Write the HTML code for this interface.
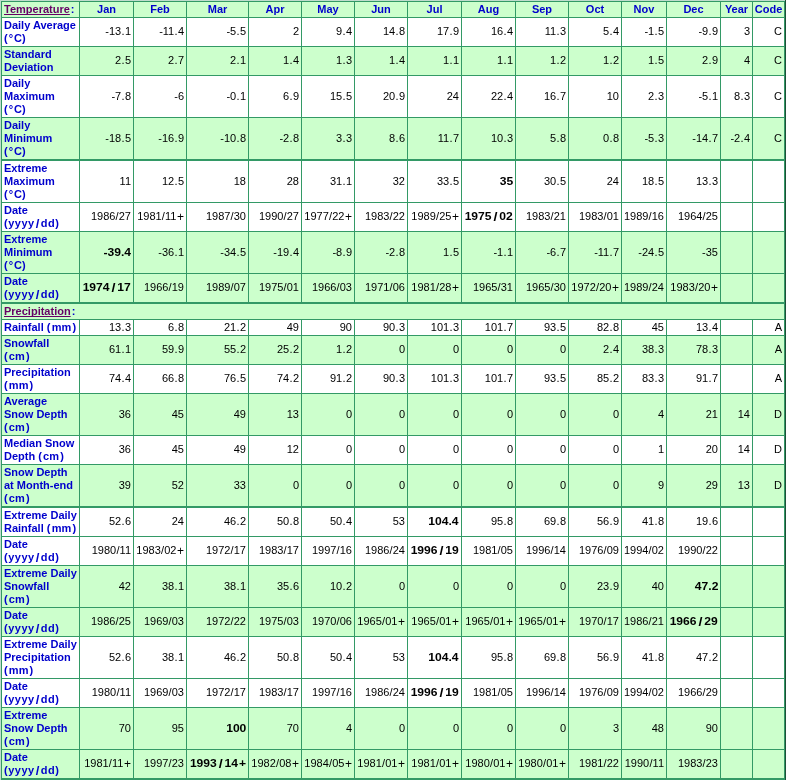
<!DOCTYPE html>
<html><head><meta charset="utf-8"><style>
html,body{margin:0;padding:0;background:#c0dccd;}
body{width:786px;height:780px;overflow:hidden;position:relative;font-family:"Liberation Sans",sans-serif;font-size:11px;}
div{position:absolute;}
.h{background:#339966;height:1px;}
.v{background:#339966;width:1px;}
.l{color:#0000CC;font-weight:bold;line-height:13px;white-space:nowrap;}
.n{color:#000;line-height:13px;white-space:nowrap;text-align:right;}
.b{font-weight:bold;color:#000;display:inline-block;transform:scaleX(1.1);transform-origin:right center;}
.bs{margin:0 1.7px;font-size:13px;line-height:10px;position:relative;top:1px;}
.bd{margin:0;}
.bm{margin-right:0;}
.bp{margin-left:1px;}
.rs{margin:0 0.15px;}
.rp{margin-left:0.6px;font-size:12px;line-height:10px;position:relative;top:1px;}
.rd{margin:0 0.3px;}
.c{color:#0000CC;font-weight:bold;line-height:13px;text-align:center;white-space:nowrap;}
.dg{margin:0 0.8px 0 1.2px;}
.yd{letter-spacing:0.5px;}
.sl{margin:0 1px;font-size:13px;line-height:10px;position:relative;top:1px;}
.p1{margin-right:1.2px;}
.p2{margin-left:1.2px;}
a{color:#660066;text-decoration:underline;text-decoration-skip-ink:none;}
</style></head><body>

<div style="left:1px;top:2px;width:784px;height:15px;background:#CCFFCC"></div>
<div style="left:1px;top:18px;width:784px;height:28px;background:#FFFFFF"></div>
<div style="left:1px;top:47px;width:784px;height:28px;background:#CCFFCC"></div>
<div style="left:1px;top:76px;width:784px;height:41px;background:#FFFFFF"></div>
<div style="left:1px;top:118px;width:784px;height:41px;background:#CCFFCC"></div>
<div style="left:1px;top:161px;width:784px;height:41px;background:#FFFFFF"></div>
<div style="left:1px;top:203px;width:784px;height:28px;background:#FFFFFF"></div>
<div style="left:1px;top:232px;width:784px;height:41px;background:#CCFFCC"></div>
<div style="left:1px;top:274px;width:784px;height:28px;background:#CCFFCC"></div>
<div style="left:1px;top:304px;width:784px;height:15px;background:#CCFFCC"></div>
<div style="left:1px;top:320px;width:784px;height:15px;background:#FFFFFF"></div>
<div style="left:1px;top:336px;width:784px;height:28px;background:#CCFFCC"></div>
<div style="left:1px;top:365px;width:784px;height:28px;background:#FFFFFF"></div>
<div style="left:1px;top:394px;width:784px;height:41px;background:#CCFFCC"></div>
<div style="left:1px;top:436px;width:784px;height:28px;background:#FFFFFF"></div>
<div style="left:1px;top:465px;width:784px;height:41px;background:#CCFFCC"></div>
<div style="left:1px;top:508px;width:784px;height:28px;background:#FFFFFF"></div>
<div style="left:1px;top:537px;width:784px;height:28px;background:#FFFFFF"></div>
<div style="left:1px;top:566px;width:784px;height:41px;background:#CCFFCC"></div>
<div style="left:1px;top:608px;width:784px;height:28px;background:#CCFFCC"></div>
<div style="left:1px;top:637px;width:784px;height:41px;background:#FFFFFF"></div>
<div style="left:1px;top:679px;width:784px;height:28px;background:#FFFFFF"></div>
<div style="left:1px;top:708px;width:784px;height:41px;background:#CCFFCC"></div>
<div style="left:1px;top:750px;width:784px;height:28px;background:#CCFFCC"></div>
<div class="h" style="left:1px;top:1px;width:784px;height:1px"></div>
<div class="h" style="left:1px;top:17px;width:784px;height:1px"></div>
<div class="h" style="left:1px;top:46px;width:784px;height:1px"></div>
<div class="h" style="left:1px;top:75px;width:784px;height:1px"></div>
<div class="h" style="left:1px;top:117px;width:784px;height:1px"></div>
<div class="h" style="left:1px;top:159px;width:784px;height:2px"></div>
<div class="h" style="left:1px;top:202px;width:784px;height:1px"></div>
<div class="h" style="left:1px;top:231px;width:784px;height:1px"></div>
<div class="h" style="left:1px;top:273px;width:784px;height:1px"></div>
<div class="h" style="left:1px;top:302px;width:784px;height:2px"></div>
<div class="h" style="left:1px;top:319px;width:784px;height:1px"></div>
<div class="h" style="left:1px;top:335px;width:784px;height:1px"></div>
<div class="h" style="left:1px;top:364px;width:784px;height:1px"></div>
<div class="h" style="left:1px;top:393px;width:784px;height:1px"></div>
<div class="h" style="left:1px;top:435px;width:784px;height:1px"></div>
<div class="h" style="left:1px;top:464px;width:784px;height:1px"></div>
<div class="h" style="left:1px;top:506px;width:784px;height:2px"></div>
<div class="h" style="left:1px;top:536px;width:784px;height:1px"></div>
<div class="h" style="left:1px;top:565px;width:784px;height:1px"></div>
<div class="h" style="left:1px;top:607px;width:784px;height:1px"></div>
<div class="h" style="left:1px;top:636px;width:784px;height:1px"></div>
<div class="h" style="left:1px;top:678px;width:784px;height:1px"></div>
<div class="h" style="left:1px;top:707px;width:784px;height:1px"></div>
<div class="h" style="left:1px;top:749px;width:784px;height:1px"></div>
<div class="h" style="left:1px;top:778px;width:784px;height:2px"></div>
<div class="v" style="left:1px;top:1px;height:779px"></div>
<div class="v" style="left:79px;top:1px;height:303px"></div>
<div class="v" style="left:79px;top:319px;height:459px"></div>
<div class="v" style="left:133px;top:1px;height:303px"></div>
<div class="v" style="left:133px;top:319px;height:459px"></div>
<div class="v" style="left:186px;top:1px;height:303px"></div>
<div class="v" style="left:186px;top:319px;height:459px"></div>
<div class="v" style="left:248px;top:1px;height:303px"></div>
<div class="v" style="left:248px;top:319px;height:459px"></div>
<div class="v" style="left:301px;top:1px;height:303px"></div>
<div class="v" style="left:301px;top:319px;height:459px"></div>
<div class="v" style="left:354px;top:1px;height:303px"></div>
<div class="v" style="left:354px;top:319px;height:459px"></div>
<div class="v" style="left:407px;top:1px;height:303px"></div>
<div class="v" style="left:407px;top:319px;height:459px"></div>
<div class="v" style="left:461px;top:1px;height:303px"></div>
<div class="v" style="left:461px;top:319px;height:459px"></div>
<div class="v" style="left:515px;top:1px;height:303px"></div>
<div class="v" style="left:515px;top:319px;height:459px"></div>
<div class="v" style="left:568px;top:1px;height:303px"></div>
<div class="v" style="left:568px;top:319px;height:459px"></div>
<div class="v" style="left:621px;top:1px;height:303px"></div>
<div class="v" style="left:621px;top:319px;height:459px"></div>
<div class="v" style="left:666px;top:1px;height:303px"></div>
<div class="v" style="left:666px;top:319px;height:459px"></div>
<div class="v" style="left:720px;top:1px;height:303px"></div>
<div class="v" style="left:720px;top:319px;height:459px"></div>
<div class="v" style="left:752px;top:1px;height:303px"></div>
<div class="v" style="left:752px;top:319px;height:459px"></div>
<div class="v" style="left:784px;top:1px;height:779px"></div>
<div style="left:785px;top:0;width:1px;height:780px;background:#1d5038"></div>
<div style="left:0;top:0;width:786px;height:780px;will-change:transform">
<div class="l" style="left:4px;top:3px"><a>Temperature</a><span style="margin-left:1px">:</span></div>
<div class="c" style="left:80px;width:53px;top:3px">Jan</div>
<div class="c" style="left:134px;width:52px;top:3px">Feb</div>
<div class="c" style="left:187px;width:61px;top:3px">Mar</div>
<div class="c" style="left:249px;width:52px;top:3px">Apr</div>
<div class="c" style="left:302px;width:52px;top:3px">May</div>
<div class="c" style="left:355px;width:52px;top:3px">Jun</div>
<div class="c" style="left:408px;width:53px;top:3px">Jul</div>
<div class="c" style="left:462px;width:53px;top:3px">Aug</div>
<div class="c" style="left:516px;width:52px;top:3px">Sep</div>
<div class="c" style="left:569px;width:52px;top:3px">Oct</div>
<div class="c" style="left:622px;width:44px;top:3px">Nov</div>
<div class="c" style="left:667px;width:53px;top:3px">Dec</div>
<div class="c" style="left:721px;width:31px;top:3px">Year</div>
<div class="c" style="left:753px;width:31px;top:3px">Code</div>
<div class="l" style="left:4px;top:19px">Daily Average<br>(<span class="dg">&deg;</span>C)</div>
<div class="n" style="left:80px;width:51px;top:25px">-13<span class="rd">.</span>1</div>
<div class="n" style="left:134px;width:50px;top:25px">-11<span class="rd">.</span>4</div>
<div class="n" style="left:187px;width:59px;top:25px">-5<span class="rd">.</span>5</div>
<div class="n" style="left:249px;width:50px;top:25px">2</div>
<div class="n" style="left:302px;width:50px;top:25px">9<span class="rd">.</span>4</div>
<div class="n" style="left:355px;width:50px;top:25px">14<span class="rd">.</span>8</div>
<div class="n" style="left:408px;width:51px;top:25px">17<span class="rd">.</span>9</div>
<div class="n" style="left:462px;width:51px;top:25px">16<span class="rd">.</span>4</div>
<div class="n" style="left:516px;width:50px;top:25px">11<span class="rd">.</span>3</div>
<div class="n" style="left:569px;width:50px;top:25px">5<span class="rd">.</span>4</div>
<div class="n" style="left:622px;width:42px;top:25px">-1<span class="rd">.</span>5</div>
<div class="n" style="left:667px;width:51px;top:25px">-9<span class="rd">.</span>9</div>
<div class="n" style="left:721px;width:29px;top:25px">3</div>
<div class="n" style="left:753px;width:29px;top:25px">C</div>
<div class="l" style="left:4px;top:48px">Standard<br>Deviation</div>
<div class="n" style="left:80px;width:51px;top:54px">2<span class="rd">.</span>5</div>
<div class="n" style="left:134px;width:50px;top:54px">2<span class="rd">.</span>7</div>
<div class="n" style="left:187px;width:59px;top:54px">2<span class="rd">.</span>1</div>
<div class="n" style="left:249px;width:50px;top:54px">1<span class="rd">.</span>4</div>
<div class="n" style="left:302px;width:50px;top:54px">1<span class="rd">.</span>3</div>
<div class="n" style="left:355px;width:50px;top:54px">1<span class="rd">.</span>4</div>
<div class="n" style="left:408px;width:51px;top:54px">1<span class="rd">.</span>1</div>
<div class="n" style="left:462px;width:51px;top:54px">1<span class="rd">.</span>1</div>
<div class="n" style="left:516px;width:50px;top:54px">1<span class="rd">.</span>2</div>
<div class="n" style="left:569px;width:50px;top:54px">1<span class="rd">.</span>2</div>
<div class="n" style="left:622px;width:42px;top:54px">1<span class="rd">.</span>5</div>
<div class="n" style="left:667px;width:51px;top:54px">2<span class="rd">.</span>9</div>
<div class="n" style="left:721px;width:29px;top:54px">4</div>
<div class="n" style="left:753px;width:29px;top:54px">C</div>
<div class="l" style="left:4px;top:77px">Daily<br>Maximum<br>(<span class="dg">&deg;</span>C)</div>
<div class="n" style="left:80px;width:51px;top:90px">-7<span class="rd">.</span>8</div>
<div class="n" style="left:134px;width:50px;top:90px">-6</div>
<div class="n" style="left:187px;width:59px;top:90px">-0<span class="rd">.</span>1</div>
<div class="n" style="left:249px;width:50px;top:90px">6<span class="rd">.</span>9</div>
<div class="n" style="left:302px;width:50px;top:90px">15<span class="rd">.</span>5</div>
<div class="n" style="left:355px;width:50px;top:90px">20<span class="rd">.</span>9</div>
<div class="n" style="left:408px;width:51px;top:90px">24</div>
<div class="n" style="left:462px;width:51px;top:90px">22<span class="rd">.</span>4</div>
<div class="n" style="left:516px;width:50px;top:90px">16<span class="rd">.</span>7</div>
<div class="n" style="left:569px;width:50px;top:90px">10</div>
<div class="n" style="left:622px;width:42px;top:90px">2<span class="rd">.</span>3</div>
<div class="n" style="left:667px;width:51px;top:90px">-5<span class="rd">.</span>1</div>
<div class="n" style="left:721px;width:29px;top:90px">8<span class="rd">.</span>3</div>
<div class="n" style="left:753px;width:29px;top:90px">C</div>
<div class="l" style="left:4px;top:119px">Daily<br>Minimum<br>(<span class="dg">&deg;</span>C)</div>
<div class="n" style="left:80px;width:51px;top:132px">-18<span class="rd">.</span>5</div>
<div class="n" style="left:134px;width:50px;top:132px">-16<span class="rd">.</span>9</div>
<div class="n" style="left:187px;width:59px;top:132px">-10<span class="rd">.</span>8</div>
<div class="n" style="left:249px;width:50px;top:132px">-2<span class="rd">.</span>8</div>
<div class="n" style="left:302px;width:50px;top:132px">3<span class="rd">.</span>3</div>
<div class="n" style="left:355px;width:50px;top:132px">8<span class="rd">.</span>6</div>
<div class="n" style="left:408px;width:51px;top:132px">11<span class="rd">.</span>7</div>
<div class="n" style="left:462px;width:51px;top:132px">10<span class="rd">.</span>3</div>
<div class="n" style="left:516px;width:50px;top:132px">5<span class="rd">.</span>8</div>
<div class="n" style="left:569px;width:50px;top:132px">0<span class="rd">.</span>8</div>
<div class="n" style="left:622px;width:42px;top:132px">-5<span class="rd">.</span>3</div>
<div class="n" style="left:667px;width:51px;top:132px">-14<span class="rd">.</span>7</div>
<div class="n" style="left:721px;width:29px;top:132px">-2<span class="rd">.</span>4</div>
<div class="n" style="left:753px;width:29px;top:132px">C</div>
<div class="l" style="left:4px;top:162px">Extreme<br>Maximum<br>(<span class="dg">&deg;</span>C)</div>
<div class="n" style="left:80px;width:51px;top:175px">11</div>
<div class="n" style="left:134px;width:50px;top:175px">12<span class="rd">.</span>5</div>
<div class="n" style="left:187px;width:59px;top:175px">18</div>
<div class="n" style="left:249px;width:50px;top:175px">28</div>
<div class="n" style="left:302px;width:50px;top:175px">31<span class="rd">.</span>1</div>
<div class="n" style="left:355px;width:50px;top:175px">32</div>
<div class="n" style="left:408px;width:51px;top:175px">33<span class="rd">.</span>5</div>
<div class="n" style="left:462px;width:51px;top:175px"><span class="b">35</span></div>
<div class="n" style="left:516px;width:50px;top:175px">30<span class="rd">.</span>5</div>
<div class="n" style="left:569px;width:50px;top:175px">24</div>
<div class="n" style="left:622px;width:42px;top:175px">18<span class="rd">.</span>5</div>
<div class="n" style="left:667px;width:51px;top:175px">13<span class="rd">.</span>3</div>
<div class="l" style="left:4px;top:204px">Date<br><span class="yd">(yyyy<span class="sl">/</span>dd)</span></div>
<div class="n" style="left:80px;width:51px;top:210px">1986<span class="rs">/</span>27</div>
<div class="n" style="left:134px;width:50px;top:210px">1981<span class="rs">/</span>11<span class="rp">+</span></div>
<div class="n" style="left:187px;width:59px;top:210px">1987<span class="rs">/</span>30</div>
<div class="n" style="left:249px;width:50px;top:210px">1990<span class="rs">/</span>27</div>
<div class="n" style="left:302px;width:50px;top:210px">1977<span class="rs">/</span>22<span class="rp">+</span></div>
<div class="n" style="left:355px;width:50px;top:210px">1983<span class="rs">/</span>22</div>
<div class="n" style="left:408px;width:51px;top:210px">1989<span class="rs">/</span>25<span class="rp">+</span></div>
<div class="n" style="left:462px;width:51px;top:210px"><span class="b">1975<span class="bs">/</span>02</span></div>
<div class="n" style="left:516px;width:50px;top:210px">1983<span class="rs">/</span>21</div>
<div class="n" style="left:569px;width:50px;top:210px">1983<span class="rs">/</span>01</div>
<div class="n" style="left:622px;width:42px;top:210px">1989<span class="rs">/</span>16</div>
<div class="n" style="left:667px;width:51px;top:210px">1964<span class="rs">/</span>25</div>
<div class="l" style="left:4px;top:233px">Extreme<br>Minimum<br>(<span class="dg">&deg;</span>C)</div>
<div class="n" style="left:80px;width:51px;top:246px"><span class="b"><span class="bm">-</span>39<span class="bd">.</span>4</span></div>
<div class="n" style="left:134px;width:50px;top:246px">-36<span class="rd">.</span>1</div>
<div class="n" style="left:187px;width:59px;top:246px">-34<span class="rd">.</span>5</div>
<div class="n" style="left:249px;width:50px;top:246px">-19<span class="rd">.</span>4</div>
<div class="n" style="left:302px;width:50px;top:246px">-8<span class="rd">.</span>9</div>
<div class="n" style="left:355px;width:50px;top:246px">-2<span class="rd">.</span>8</div>
<div class="n" style="left:408px;width:51px;top:246px">1<span class="rd">.</span>5</div>
<div class="n" style="left:462px;width:51px;top:246px">-1<span class="rd">.</span>1</div>
<div class="n" style="left:516px;width:50px;top:246px">-6<span class="rd">.</span>7</div>
<div class="n" style="left:569px;width:50px;top:246px">-11<span class="rd">.</span>7</div>
<div class="n" style="left:622px;width:42px;top:246px">-24<span class="rd">.</span>5</div>
<div class="n" style="left:667px;width:51px;top:246px">-35</div>
<div class="l" style="left:4px;top:275px">Date<br><span class="yd">(yyyy<span class="sl">/</span>dd)</span></div>
<div class="n" style="left:80px;width:51px;top:281px"><span class="b">1974<span class="bs">/</span>17</span></div>
<div class="n" style="left:134px;width:50px;top:281px">1966<span class="rs">/</span>19</div>
<div class="n" style="left:187px;width:59px;top:281px">1989<span class="rs">/</span>07</div>
<div class="n" style="left:249px;width:50px;top:281px">1975<span class="rs">/</span>01</div>
<div class="n" style="left:302px;width:50px;top:281px">1966<span class="rs">/</span>03</div>
<div class="n" style="left:355px;width:50px;top:281px">1971<span class="rs">/</span>06</div>
<div class="n" style="left:408px;width:51px;top:281px">1981<span class="rs">/</span>28<span class="rp">+</span></div>
<div class="n" style="left:462px;width:51px;top:281px">1965<span class="rs">/</span>31</div>
<div class="n" style="left:516px;width:50px;top:281px">1965<span class="rs">/</span>30</div>
<div class="n" style="left:569px;width:50px;top:281px">1972<span class="rs">/</span>20<span class="rp">+</span></div>
<div class="n" style="left:622px;width:42px;top:281px">1989<span class="rs">/</span>24</div>
<div class="n" style="left:667px;width:51px;top:281px">1983<span class="rs">/</span>20<span class="rp">+</span></div>
<div class="l" style="left:4px;top:305px"><a>Precipitation</a><span style="margin-left:1px">:</span></div>
<div class="l" style="left:4px;top:321px">Rainfall <span class="p1">(</span>mm<span class="p2">)</span></div>
<div class="n" style="left:80px;width:51px;top:321px">13<span class="rd">.</span>3</div>
<div class="n" style="left:134px;width:50px;top:321px">6<span class="rd">.</span>8</div>
<div class="n" style="left:187px;width:59px;top:321px">21<span class="rd">.</span>2</div>
<div class="n" style="left:249px;width:50px;top:321px">49</div>
<div class="n" style="left:302px;width:50px;top:321px">90</div>
<div class="n" style="left:355px;width:50px;top:321px">90<span class="rd">.</span>3</div>
<div class="n" style="left:408px;width:51px;top:321px">101<span class="rd">.</span>3</div>
<div class="n" style="left:462px;width:51px;top:321px">101<span class="rd">.</span>7</div>
<div class="n" style="left:516px;width:50px;top:321px">93<span class="rd">.</span>5</div>
<div class="n" style="left:569px;width:50px;top:321px">82<span class="rd">.</span>8</div>
<div class="n" style="left:622px;width:42px;top:321px">45</div>
<div class="n" style="left:667px;width:51px;top:321px">13<span class="rd">.</span>4</div>
<div class="n" style="left:753px;width:29px;top:321px">A</div>
<div class="l" style="left:4px;top:337px">Snowfall<br><span class="p1">(</span>cm<span class="p2">)</span></div>
<div class="n" style="left:80px;width:51px;top:343px">61<span class="rd">.</span>1</div>
<div class="n" style="left:134px;width:50px;top:343px">59<span class="rd">.</span>9</div>
<div class="n" style="left:187px;width:59px;top:343px">55<span class="rd">.</span>2</div>
<div class="n" style="left:249px;width:50px;top:343px">25<span class="rd">.</span>2</div>
<div class="n" style="left:302px;width:50px;top:343px">1<span class="rd">.</span>2</div>
<div class="n" style="left:355px;width:50px;top:343px">0</div>
<div class="n" style="left:408px;width:51px;top:343px">0</div>
<div class="n" style="left:462px;width:51px;top:343px">0</div>
<div class="n" style="left:516px;width:50px;top:343px">0</div>
<div class="n" style="left:569px;width:50px;top:343px">2<span class="rd">.</span>4</div>
<div class="n" style="left:622px;width:42px;top:343px">38<span class="rd">.</span>3</div>
<div class="n" style="left:667px;width:51px;top:343px">78<span class="rd">.</span>3</div>
<div class="n" style="left:753px;width:29px;top:343px">A</div>
<div class="l" style="left:4px;top:366px">Precipitation<br><span class="p1">(</span>mm<span class="p2">)</span></div>
<div class="n" style="left:80px;width:51px;top:372px">74<span class="rd">.</span>4</div>
<div class="n" style="left:134px;width:50px;top:372px">66<span class="rd">.</span>8</div>
<div class="n" style="left:187px;width:59px;top:372px">76<span class="rd">.</span>5</div>
<div class="n" style="left:249px;width:50px;top:372px">74<span class="rd">.</span>2</div>
<div class="n" style="left:302px;width:50px;top:372px">91<span class="rd">.</span>2</div>
<div class="n" style="left:355px;width:50px;top:372px">90<span class="rd">.</span>3</div>
<div class="n" style="left:408px;width:51px;top:372px">101<span class="rd">.</span>3</div>
<div class="n" style="left:462px;width:51px;top:372px">101<span class="rd">.</span>7</div>
<div class="n" style="left:516px;width:50px;top:372px">93<span class="rd">.</span>5</div>
<div class="n" style="left:569px;width:50px;top:372px">85<span class="rd">.</span>2</div>
<div class="n" style="left:622px;width:42px;top:372px">83<span class="rd">.</span>3</div>
<div class="n" style="left:667px;width:51px;top:372px">91<span class="rd">.</span>7</div>
<div class="n" style="left:753px;width:29px;top:372px">A</div>
<div class="l" style="left:4px;top:395px">Average<br>Snow Depth<br><span class="p1">(</span>cm<span class="p2">)</span></div>
<div class="n" style="left:80px;width:51px;top:408px">36</div>
<div class="n" style="left:134px;width:50px;top:408px">45</div>
<div class="n" style="left:187px;width:59px;top:408px">49</div>
<div class="n" style="left:249px;width:50px;top:408px">13</div>
<div class="n" style="left:302px;width:50px;top:408px">0</div>
<div class="n" style="left:355px;width:50px;top:408px">0</div>
<div class="n" style="left:408px;width:51px;top:408px">0</div>
<div class="n" style="left:462px;width:51px;top:408px">0</div>
<div class="n" style="left:516px;width:50px;top:408px">0</div>
<div class="n" style="left:569px;width:50px;top:408px">0</div>
<div class="n" style="left:622px;width:42px;top:408px">4</div>
<div class="n" style="left:667px;width:51px;top:408px">21</div>
<div class="n" style="left:721px;width:29px;top:408px">14</div>
<div class="n" style="left:753px;width:29px;top:408px">D</div>
<div class="l" style="left:4px;top:437px">Median Snow<br>Depth <span class="p1">(</span>cm<span class="p2">)</span></div>
<div class="n" style="left:80px;width:51px;top:443px">36</div>
<div class="n" style="left:134px;width:50px;top:443px">45</div>
<div class="n" style="left:187px;width:59px;top:443px">49</div>
<div class="n" style="left:249px;width:50px;top:443px">12</div>
<div class="n" style="left:302px;width:50px;top:443px">0</div>
<div class="n" style="left:355px;width:50px;top:443px">0</div>
<div class="n" style="left:408px;width:51px;top:443px">0</div>
<div class="n" style="left:462px;width:51px;top:443px">0</div>
<div class="n" style="left:516px;width:50px;top:443px">0</div>
<div class="n" style="left:569px;width:50px;top:443px">0</div>
<div class="n" style="left:622px;width:42px;top:443px">1</div>
<div class="n" style="left:667px;width:51px;top:443px">20</div>
<div class="n" style="left:721px;width:29px;top:443px">14</div>
<div class="n" style="left:753px;width:29px;top:443px">D</div>
<div class="l" style="left:4px;top:466px">Snow Depth<br>at Month-end<br><span class="p1">(</span>cm<span class="p2">)</span></div>
<div class="n" style="left:80px;width:51px;top:479px">39</div>
<div class="n" style="left:134px;width:50px;top:479px">52</div>
<div class="n" style="left:187px;width:59px;top:479px">33</div>
<div class="n" style="left:249px;width:50px;top:479px">0</div>
<div class="n" style="left:302px;width:50px;top:479px">0</div>
<div class="n" style="left:355px;width:50px;top:479px">0</div>
<div class="n" style="left:408px;width:51px;top:479px">0</div>
<div class="n" style="left:462px;width:51px;top:479px">0</div>
<div class="n" style="left:516px;width:50px;top:479px">0</div>
<div class="n" style="left:569px;width:50px;top:479px">0</div>
<div class="n" style="left:622px;width:42px;top:479px">9</div>
<div class="n" style="left:667px;width:51px;top:479px">29</div>
<div class="n" style="left:721px;width:29px;top:479px">13</div>
<div class="n" style="left:753px;width:29px;top:479px">D</div>
<div class="l" style="left:4px;top:509px">Extreme Daily<br>Rainfall <span class="p1">(</span>mm<span class="p2">)</span></div>
<div class="n" style="left:80px;width:51px;top:515px">52<span class="rd">.</span>6</div>
<div class="n" style="left:134px;width:50px;top:515px">24</div>
<div class="n" style="left:187px;width:59px;top:515px">46<span class="rd">.</span>2</div>
<div class="n" style="left:249px;width:50px;top:515px">50<span class="rd">.</span>8</div>
<div class="n" style="left:302px;width:50px;top:515px">50<span class="rd">.</span>4</div>
<div class="n" style="left:355px;width:50px;top:515px">53</div>
<div class="n" style="left:408px;width:51px;top:515px"><span class="b">104<span class="bd">.</span>4</span></div>
<div class="n" style="left:462px;width:51px;top:515px">95<span class="rd">.</span>8</div>
<div class="n" style="left:516px;width:50px;top:515px">69<span class="rd">.</span>8</div>
<div class="n" style="left:569px;width:50px;top:515px">56<span class="rd">.</span>9</div>
<div class="n" style="left:622px;width:42px;top:515px">41<span class="rd">.</span>8</div>
<div class="n" style="left:667px;width:51px;top:515px">19<span class="rd">.</span>6</div>
<div class="l" style="left:4px;top:538px">Date<br><span class="yd">(yyyy<span class="sl">/</span>dd)</span></div>
<div class="n" style="left:80px;width:51px;top:544px">1980<span class="rs">/</span>11</div>
<div class="n" style="left:134px;width:50px;top:544px">1983<span class="rs">/</span>02<span class="rp">+</span></div>
<div class="n" style="left:187px;width:59px;top:544px">1972<span class="rs">/</span>17</div>
<div class="n" style="left:249px;width:50px;top:544px">1983<span class="rs">/</span>17</div>
<div class="n" style="left:302px;width:50px;top:544px">1997<span class="rs">/</span>16</div>
<div class="n" style="left:355px;width:50px;top:544px">1986<span class="rs">/</span>24</div>
<div class="n" style="left:408px;width:51px;top:544px"><span class="b">1996<span class="bs">/</span>19</span></div>
<div class="n" style="left:462px;width:51px;top:544px">1981<span class="rs">/</span>05</div>
<div class="n" style="left:516px;width:50px;top:544px">1996<span class="rs">/</span>14</div>
<div class="n" style="left:569px;width:50px;top:544px">1976<span class="rs">/</span>09</div>
<div class="n" style="left:622px;width:42px;top:544px">1994<span class="rs">/</span>02</div>
<div class="n" style="left:667px;width:51px;top:544px">1990<span class="rs">/</span>22</div>
<div class="l" style="left:4px;top:567px">Extreme Daily<br>Snowfall<br><span class="p1">(</span>cm<span class="p2">)</span></div>
<div class="n" style="left:80px;width:51px;top:580px">42</div>
<div class="n" style="left:134px;width:50px;top:580px">38<span class="rd">.</span>1</div>
<div class="n" style="left:187px;width:59px;top:580px">38<span class="rd">.</span>1</div>
<div class="n" style="left:249px;width:50px;top:580px">35<span class="rd">.</span>6</div>
<div class="n" style="left:302px;width:50px;top:580px">10<span class="rd">.</span>2</div>
<div class="n" style="left:355px;width:50px;top:580px">0</div>
<div class="n" style="left:408px;width:51px;top:580px">0</div>
<div class="n" style="left:462px;width:51px;top:580px">0</div>
<div class="n" style="left:516px;width:50px;top:580px">0</div>
<div class="n" style="left:569px;width:50px;top:580px">23<span class="rd">.</span>9</div>
<div class="n" style="left:622px;width:42px;top:580px">40</div>
<div class="n" style="left:667px;width:51px;top:580px"><span class="b">47<span class="bd">.</span>2</span></div>
<div class="l" style="left:4px;top:609px">Date<br><span class="yd">(yyyy<span class="sl">/</span>dd)</span></div>
<div class="n" style="left:80px;width:51px;top:615px">1986<span class="rs">/</span>25</div>
<div class="n" style="left:134px;width:50px;top:615px">1969<span class="rs">/</span>03</div>
<div class="n" style="left:187px;width:59px;top:615px">1972<span class="rs">/</span>22</div>
<div class="n" style="left:249px;width:50px;top:615px">1975<span class="rs">/</span>03</div>
<div class="n" style="left:302px;width:50px;top:615px">1970<span class="rs">/</span>06</div>
<div class="n" style="left:355px;width:50px;top:615px">1965<span class="rs">/</span>01<span class="rp">+</span></div>
<div class="n" style="left:408px;width:51px;top:615px">1965<span class="rs">/</span>01<span class="rp">+</span></div>
<div class="n" style="left:462px;width:51px;top:615px">1965<span class="rs">/</span>01<span class="rp">+</span></div>
<div class="n" style="left:516px;width:50px;top:615px">1965<span class="rs">/</span>01<span class="rp">+</span></div>
<div class="n" style="left:569px;width:50px;top:615px">1970<span class="rs">/</span>17</div>
<div class="n" style="left:622px;width:42px;top:615px">1986<span class="rs">/</span>21</div>
<div class="n" style="left:667px;width:51px;top:615px"><span class="b">1966<span class="bs">/</span>29</span></div>
<div class="l" style="left:4px;top:638px">Extreme Daily<br>Precipitation<br><span class="p1">(</span>mm<span class="p2">)</span></div>
<div class="n" style="left:80px;width:51px;top:651px">52<span class="rd">.</span>6</div>
<div class="n" style="left:134px;width:50px;top:651px">38<span class="rd">.</span>1</div>
<div class="n" style="left:187px;width:59px;top:651px">46<span class="rd">.</span>2</div>
<div class="n" style="left:249px;width:50px;top:651px">50<span class="rd">.</span>8</div>
<div class="n" style="left:302px;width:50px;top:651px">50<span class="rd">.</span>4</div>
<div class="n" style="left:355px;width:50px;top:651px">53</div>
<div class="n" style="left:408px;width:51px;top:651px"><span class="b">104<span class="bd">.</span>4</span></div>
<div class="n" style="left:462px;width:51px;top:651px">95<span class="rd">.</span>8</div>
<div class="n" style="left:516px;width:50px;top:651px">69<span class="rd">.</span>8</div>
<div class="n" style="left:569px;width:50px;top:651px">56<span class="rd">.</span>9</div>
<div class="n" style="left:622px;width:42px;top:651px">41<span class="rd">.</span>8</div>
<div class="n" style="left:667px;width:51px;top:651px">47<span class="rd">.</span>2</div>
<div class="l" style="left:4px;top:680px">Date<br><span class="yd">(yyyy<span class="sl">/</span>dd)</span></div>
<div class="n" style="left:80px;width:51px;top:686px">1980<span class="rs">/</span>11</div>
<div class="n" style="left:134px;width:50px;top:686px">1969<span class="rs">/</span>03</div>
<div class="n" style="left:187px;width:59px;top:686px">1972<span class="rs">/</span>17</div>
<div class="n" style="left:249px;width:50px;top:686px">1983<span class="rs">/</span>17</div>
<div class="n" style="left:302px;width:50px;top:686px">1997<span class="rs">/</span>16</div>
<div class="n" style="left:355px;width:50px;top:686px">1986<span class="rs">/</span>24</div>
<div class="n" style="left:408px;width:51px;top:686px"><span class="b">1996<span class="bs">/</span>19</span></div>
<div class="n" style="left:462px;width:51px;top:686px">1981<span class="rs">/</span>05</div>
<div class="n" style="left:516px;width:50px;top:686px">1996<span class="rs">/</span>14</div>
<div class="n" style="left:569px;width:50px;top:686px">1976<span class="rs">/</span>09</div>
<div class="n" style="left:622px;width:42px;top:686px">1994<span class="rs">/</span>02</div>
<div class="n" style="left:667px;width:51px;top:686px">1966<span class="rs">/</span>29</div>
<div class="l" style="left:4px;top:709px">Extreme<br>Snow Depth<br><span class="p1">(</span>cm<span class="p2">)</span></div>
<div class="n" style="left:80px;width:51px;top:722px">70</div>
<div class="n" style="left:134px;width:50px;top:722px">95</div>
<div class="n" style="left:187px;width:59px;top:722px"><span class="b">100</span></div>
<div class="n" style="left:249px;width:50px;top:722px">70</div>
<div class="n" style="left:302px;width:50px;top:722px">4</div>
<div class="n" style="left:355px;width:50px;top:722px">0</div>
<div class="n" style="left:408px;width:51px;top:722px">0</div>
<div class="n" style="left:462px;width:51px;top:722px">0</div>
<div class="n" style="left:516px;width:50px;top:722px">0</div>
<div class="n" style="left:569px;width:50px;top:722px">3</div>
<div class="n" style="left:622px;width:42px;top:722px">48</div>
<div class="n" style="left:667px;width:51px;top:722px">90</div>
<div class="l" style="left:4px;top:751px">Date<br><span class="yd">(yyyy<span class="sl">/</span>dd)</span></div>
<div class="n" style="left:80px;width:51px;top:757px">1981<span class="rs">/</span>11<span class="rp">+</span></div>
<div class="n" style="left:134px;width:50px;top:757px">1997<span class="rs">/</span>23</div>
<div class="n" style="left:187px;width:59px;top:757px"><span class="b">1993<span class="bs">/</span>14<span class="bp">+</span></span></div>
<div class="n" style="left:249px;width:50px;top:757px">1982<span class="rs">/</span>08<span class="rp">+</span></div>
<div class="n" style="left:302px;width:50px;top:757px">1984<span class="rs">/</span>05<span class="rp">+</span></div>
<div class="n" style="left:355px;width:50px;top:757px">1981<span class="rs">/</span>01<span class="rp">+</span></div>
<div class="n" style="left:408px;width:51px;top:757px">1981<span class="rs">/</span>01<span class="rp">+</span></div>
<div class="n" style="left:462px;width:51px;top:757px">1980<span class="rs">/</span>01<span class="rp">+</span></div>
<div class="n" style="left:516px;width:50px;top:757px">1980<span class="rs">/</span>01<span class="rp">+</span></div>
<div class="n" style="left:569px;width:50px;top:757px">1981<span class="rs">/</span>22</div>
<div class="n" style="left:622px;width:42px;top:757px">1990<span class="rs">/</span>11</div>
<div class="n" style="left:667px;width:51px;top:757px">1983<span class="rs">/</span>23</div>
</div>
</body></html>
